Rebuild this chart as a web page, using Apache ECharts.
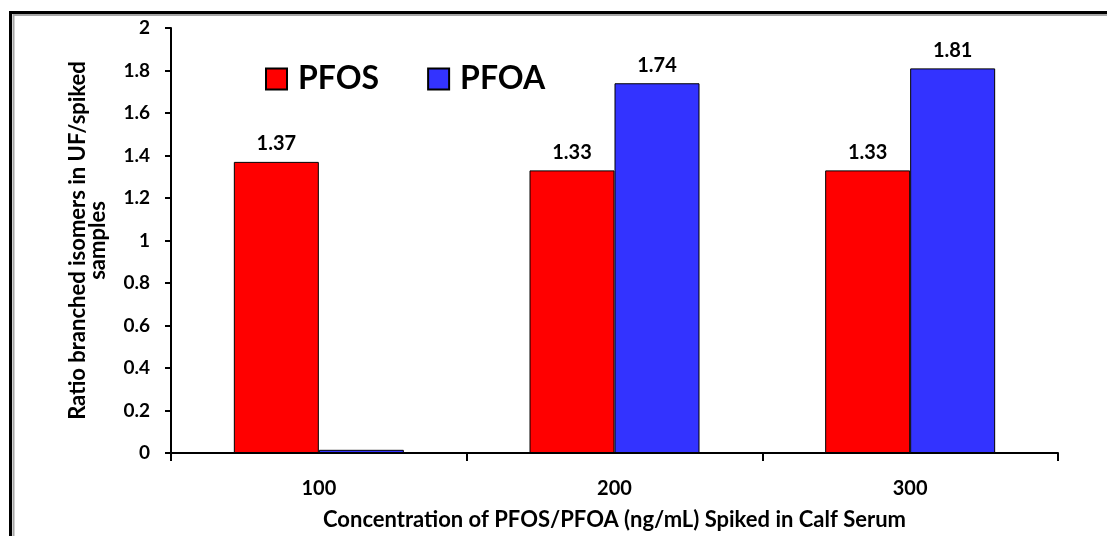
<!DOCTYPE html>
<html>
<head>
<meta charset="utf-8">
<script src="https://cdn.jsdelivr.net/npm/echarts@6/dist/echarts.min.js"></script>
<style>
  html, body { margin: 0; padding: 0; background: #fff; }
  #chart { width: 1107px; height: 536px; }
</style>
</head>
<body>
<div id="chart"></div>
<script>
// Spike concentrations (ng/mL)
const categories = ['100', '200', '300'];
// Ratio of branched isomers, UF vs spiked samples
const pfosValues = [1.37, 1.33, 1.33];
const pfoaValues = [0.015, 1.74, 1.81];
// Value labels shown above the bars (none on the near-zero PFOA bar)
const pfosLabels = ['1.37', '1.33', '1.33'];
const pfoaLabels = ['', '1.74', '1.81'];

const FONT = 'Lato, "Open Sans", sans-serif';
const chart = echarts.init(document.getElementById('chart'), null, { renderer: 'canvas' });

function labelFor(texts) {
  return {
    show: true,
    position: 'top',
    distance: 8,
    color: '#000',
    fontFamily: FONT,
    fontWeight: 'bold',
    fontSize: 20,
    formatter: p => texts[p.dataIndex]
  };
}

chart.setOption({
  animation: false,
  backgroundColor: '#fff',
  graphic: [
    // outer frame: black line with a grey inner line, running off the right and bottom edges
    { type: 'rect', shape: { x: 10.5, y: 12.5, width: 1120, height: 560 },
      style: { fill: null, stroke: '#000', lineWidth: 3 }, silent: true },
    { type: 'rect', shape: { x: 13.5, y: 15, width: 1120, height: 560 },
      style: { fill: null, stroke: '#a6a6a6', lineWidth: 2 }, silent: true }
  ],
  legend: {
    left: 265,
    top: 63,
    padding: 0,
    icon: 'rect',
    itemWidth: 21,
    itemHeight: 21,
    itemGap: 48,
    textStyle: { fontFamily: FONT, fontWeight: 'bold', fontSize: 32, color: '#000', padding: [0, 0, 0, 6] },
    data: ['PFOS', 'PFOA']
  },
  grid: { left: 171, right: 49, top: 28, bottom: 83, outerBoundsMode: 'none', containLabel: false },
  xAxis: {
    type: 'category',
    data: categories,
    name: 'Concentration of PFOS/PFOA (ng/mL) Spiked in Calf Serum',
    nameLocation: 'middle',
    nameGap: 56,
    nameTextStyle: { fontFamily: FONT, fontWeight: 'bold', fontSize: 22, color: '#000' },
    axisLine: { lineStyle: { color: '#000', width: 2 } },
    axisTick: { show: true, alignWithLabel: false, length: 8, lineStyle: { color: '#000', width: 2 } },
    axisLabel: { margin: 26, fontFamily: FONT, fontWeight: 'bold', fontSize: 20, color: '#000' }
  },
  yAxis: {
    type: 'value',
    min: 0,
    max: 2,
    interval: 0.2,
    name: 'Ratio branched isomers in UF/spiked\nsamples',
    nameLocation: 'middle',
    nameRotate: 90,
    nameGap: 63,
    nameTextStyle: { fontFamily: FONT, fontWeight: 'bold', fontSize: 22, color: '#000', lineHeight: 20 },
    axisLine: { show: true, lineStyle: { color: '#000', width: 2 } },
    axisTick: { show: true, length: 6, lineStyle: { color: '#000', width: 2 } },
    splitLine: { show: false },
    axisLabel: { margin: 21, fontFamily: FONT, fontWeight: 'bold', fontSize: 19, color: '#000' }
  },
  series: [
    {
      name: 'PFOS',
      type: 'bar',
      data: pfosValues,
      barWidth: 85,
      barGap: '0%',
      itemStyle: { color: '#ff0000', borderColor: '#000', borderWidth: 1 },
      label: labelFor(pfosLabels)
    },
    {
      name: 'PFOA',
      type: 'bar',
      data: pfoaValues,
      barWidth: 85,
      barGap: '0%',
      itemStyle: { color: '#3333ff', borderColor: '#000', borderWidth: 1 },
      label: labelFor(pfoaLabels)
    }
  ]
});
</script>
</body>
</html>
